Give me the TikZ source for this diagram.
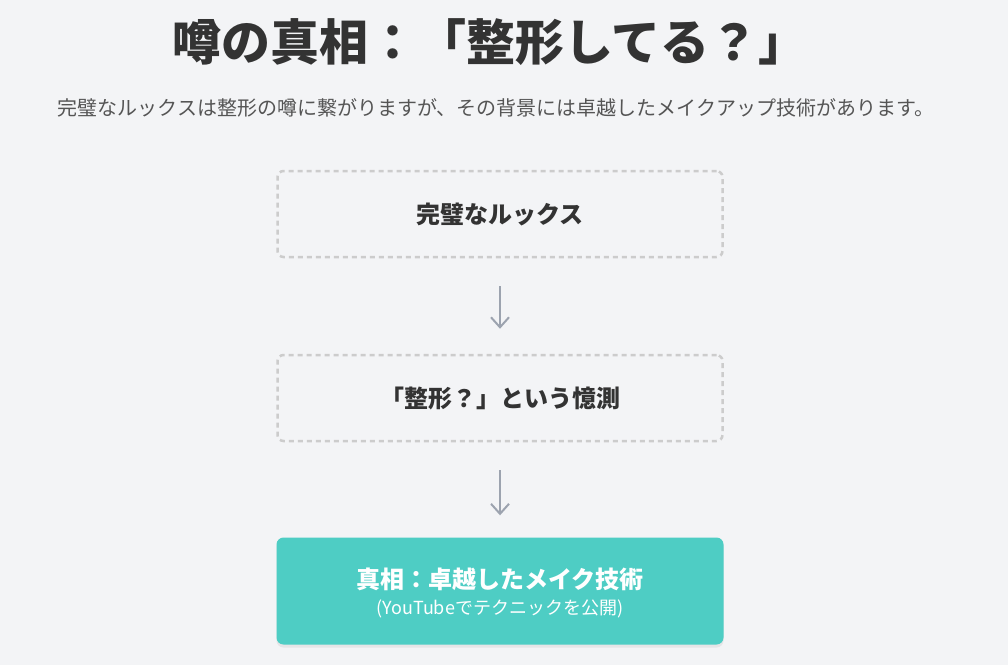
\documentclass[tikz,border=0pt]{standalone}
\usepackage{fontspec}
\setmainfont{Noto Sans CJK JP}
\usetikzlibrary{arrows.meta,shadows}
\definecolor{bg}{HTML}{F3F4F6}
\definecolor{ink}{HTML}{333333}
\definecolor{sub}{HTML}{555555}
\definecolor{dash}{HTML}{CCCCCC}
\definecolor{teal}{HTML}{4ECDC4}
\definecolor{arr}{HTML}{9CA3AF}
\tikzset{
 x=1pt,y=-1pt,
 dbox/.style={draw=dash,line width=2.5pt,dash pattern=on 5pt off 4pt,rounded corners=6pt,minimum width=445pt,minimum height=86pt,fill=bg,font=\bfseries\fontsize{24}{28}\selectfont,text=ink},
 tbox/.style={fill=teal,rounded corners=7pt,minimum width=447pt,minimum height=107pt,drop shadow={shadow xshift=0pt,shadow yshift=-3pt,opacity=0.12}},
 conn/.style={draw=arr,line width=2pt,-{Straight Barb[length=10pt,width=18pt,line width=2pt]}}
}
\begin{document}
\begin{tikzpicture}
\fill[bg] (0,0) rectangle (1008,665);
\useasboundingbox (0,0) rectangle (1008,665);
\node[font=\bfseries\fontsize{49}{56}\selectfont,text=ink] (title) at (490,42) {噂の真相：「整形してる？」};
\node[font=\fontsize{20}{24}\selectfont,text=sub] (subt) at (496,108) {完璧なルックスは整形の噂に繋がりますが、その背景には卓越したメイクアップ技術があります。};
\node[dbox] (b1) at (500,214) {完璧なルックス};
\node[dbox] (b2) at (500,398) {「整形？」という憶測};
\node[tbox] (b3) at (500,591) {};
\node[text=white,font=\bfseries\fontsize{24}{28}\selectfont] (t3) at (500,579) {真相：卓越したメイク技術};
\node[text=white,font=\fontsize{18}{22}\selectfont] (s3) at (500,609) {(YouTubeでテクニックを公開)};
\draw[conn] ([yshift=-28pt]b1.south) -- ([yshift=25pt]b2.north);
\draw[conn] ([yshift=-28pt]b2.south) -- ([yshift=22pt]b3.north);
\end{tikzpicture}
\end{document}
